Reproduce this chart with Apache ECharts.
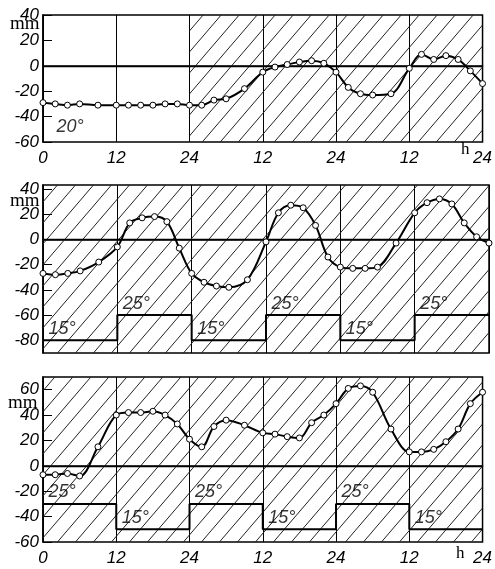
<!DOCTYPE html>
<html>
<head>
<meta charset="utf-8">
<script src="https://cdn.jsdelivr.net/npm/echarts@6/dist/echarts.min.js"></script>
<style>
  html, body { margin: 0; background: #fff; }
  #chart { width: 495px; height: 569px; }
</style>
</head>
<body>
<div id="chart"></div>
<script>
// sampling hours (same for all three runs)
const hours = [0, 2, 4, 6, 9, 12, 14, 16, 18, 20, 22, 24, 26, 28, 30, 33, 36, 38, 40, 42, 44, 46, 48, 50, 52, 54, 57, 60, 62, 64, 66, 68, 70, 72]

// mm
const depthConst20 = [-29, -30, -31, -30, -31, -31, -31, -31, -31, -30, -30, -31, -31, -27, -26, -18, -5, -1, 1, 3, 4, 2, -5, -17, -22, -23, -22, -2, 9, 5, 8, 5, -4, -14]
const depthCold1st = [-27, -28, -27, -25, -18, -6, 13, 17, 18, 14, -7, -27, -34, -37, -38, -32, -2, 21, 27, 25, 11, -14, -22, -23, -23, -22, -3, 21, 29, 32, 28, 13, 2, -3]
const depthWarm1st = [-7, -7, -6, -8, 15, 40, 42, 42, 43, 40, 33, 21, 15, 31, 36, 32, 26, 25, 23, 22, 34, 40, 49, 61, 63, 58, 29, 11, 11, 13, 19, 29, 49, 58]

// temperature regime per 12 h block
const temps2 = [15, 25, 15, 25, 15, 25]
const tempLevels2 = [-80, -60, -80, -60, -80, -60]
const temps3 = [25, 15, 25, 15, 25, 15]
const tempLevels3 = [-30, -50, -30, -50, -30, -50]

// hatched (dark) spans in hours
const dark1 = [[24, 72]]
const dark2 = [[0, 72]]
const dark3 = [[0, 72]]

const yTicks1 = [-60, -40, -20, 0, 20, 40]
const yTicks2 = [-80, -60, -40, -20, 0, 20, 40]
const yTicks3 = [-60, -40, -20, 0, 20, 40, 60]

const numFont = 'Liberation Sans'
const romanFont = 'Liberation Serif'

const makeHatch = () => {
  const w = 18, h = 21
  const c = document.createElement('canvas')
  c.width = w
  c.height = h
  const ctx = c.getContext('2d')
  ctx.strokeStyle = '#222'
  ctx.lineWidth = 1
  for (const k of [-1, 0, 1]) {
    ctx.beginPath()
    ctx.moveTo(k * w - w, 2 * h)
    ctx.lineTo(k * w + 2 * w, -h)
    ctx.stroke()
  }
  return c
}
const hatch = { image: makeHatch(), repeat: 'repeat' }

const xLabel = (v) => (v === 0 ? '0' : v % 24 === 0 ? '24' : '12')

const xAxisFor = (gridIndex, showLabels) => ({
  type: 'value',
  gridIndex,
  min: 0,
  max: 72,
  interval: 12,
  axisLine: { show: true, lineStyle: { color: '#000', width: 1.5 } },
  axisTick: { show: false },
  axisLabel: {
    show: showLabels,
    formatter: xLabel,
    color: '#000',
    fontFamily: numFont,
    fontStyle: 'italic',
    fontSize: 17,
    margin: 8,
  },
  splitLine: { show: true, lineStyle: { color: '#000', width: 1 } },
})

const yAxisFor = (gridIndex, min, max, ticks) => ({
  type: 'value',
  gridIndex,
  min,
  max,
  axisLine: { show: true, lineStyle: { color: '#000', width: 1.5 } },
  axisTick: { show: true, inside: true, length: 9, customValues: ticks, lineStyle: { color: '#000' } },
  axisLabel: {
    customValues: ticks,
    color: '#000',
    fontFamily: numFont,
    fontStyle: 'italic',
    fontSize: 17,
    margin: 4,
  },
  splitLine: { show: false },
})

const curveSeries = (idx, values, dark) => ({
  type: 'line',
  xAxisIndex: idx,
  yAxisIndex: idx,
  data: hours.map((h, i) => [h, values[i]]),
  smooth: 0.35,
  symbol: 'circle',
  symbolSize: 6,
  itemStyle: { color: '#fff', borderColor: '#000', borderWidth: 1 },
  lineStyle: { color: '#000', width: 2 },
  z: 5,
  silent: true,
  markLine: {
    silent: true,
    symbol: ['none', 'none'],
    label: { show: false },
    lineStyle: { color: '#000', type: 'solid', width: 1.3 },
    data: [{ yAxis: 0 }],
  },
  markArea: {
    silent: true,
    itemStyle: { color: hatch },
    data: dark.map(([a, b]) => [{ xAxis: a }, { xAxis: b }]),
  },
})

const stepSeries = (idx, levels) => ({
  type: 'line',
  xAxisIndex: idx,
  yAxisIndex: idx,
  step: 'end',
  showSymbol: false,
  data: levels.map((v, i) => [i * 12, v]).concat([[72, levels[levels.length - 1]]]),
  lineStyle: { color: '#000', width: 2 },
  z: 4,
  silent: true,
})

const tempLabelStyle = {
  show: true,
  position: [6, -2],
  align: 'left',
  verticalAlign: 'bottom',
  color: '#000',
  fontFamily: numFont,
  fontStyle: 'italic',
  fontSize: 18,
}

const tempLabelSeries = (idx, temps, levels) => ({
  type: 'scatter',
  xAxisIndex: idx,
  yAxisIndex: idx,
  symbolSize: 1,
  itemStyle: { color: 'rgba(0,0,0,0)' },
  silent: true,
  z: 6,
  data: temps.map((t, i) => ({
    value: [i * 12, levels[i]],
    label: { ...tempLabelStyle, formatter: t + '°' },
  })),
})

const chart = echarts.init(document.getElementById('chart'))

const gridStyle = { show: true, borderColor: '#000', borderWidth: 1.5, left: 43, right: 6 }

chart.setOption({
  animation: false,
  backgroundColor: '#fff',
  grid: [
    { ...gridStyle, top: 15, height: 127 },
    { ...gridStyle, top: 185, height: 168 },
    { ...gridStyle, top: 377, height: 165 },
  ],
  xAxis: [xAxisFor(0, true), xAxisFor(1, false), xAxisFor(2, true)],
  yAxis: [
    yAxisFor(0, -60, 40, yTicks1),
    yAxisFor(1, -90, 43, yTicks2),
    yAxisFor(2, -60, 70, yTicks3),
  ],
  graphic: [
    { type: 'text', left: 10, top: 15, style: { text: 'mm', font: '19px ' + romanFont, fill: '#000' } },
    { type: 'text', left: 10, top: 192, style: { text: 'mm', font: '19px ' + romanFont, fill: '#000' } },
    { type: 'text', left: 8, top: 394, style: { text: 'mm', font: '19px ' + romanFont, fill: '#000' } },
    { type: 'text', left: 461, top: 141, style: { text: 'h', font: '17px ' + romanFont, fill: '#000' } },
    { type: 'text', left: 456, top: 545, style: { text: 'h', font: '17px ' + romanFont, fill: '#000' } },
  ],
  series: [
    curveSeries(0, depthConst20, dark1),
    {
      type: 'scatter',
      xAxisIndex: 0,
      yAxisIndex: 0,
      symbolSize: 1,
      itemStyle: { color: 'rgba(0,0,0,0)' },
      silent: true,
      data: [{ value: [0, -60], label: { ...tempLabelStyle, position: [14, -6], formatter: '20°' } }],
    },
    curveSeries(1, depthCold1st, dark2),
    stepSeries(1, tempLevels2),
    tempLabelSeries(1, temps2, tempLevels2),
    curveSeries(2, depthWarm1st, dark3),
    stepSeries(2, tempLevels3),
    tempLabelSeries(2, temps3, tempLevels3),
  ],
})
</script>
</body>
</html>
